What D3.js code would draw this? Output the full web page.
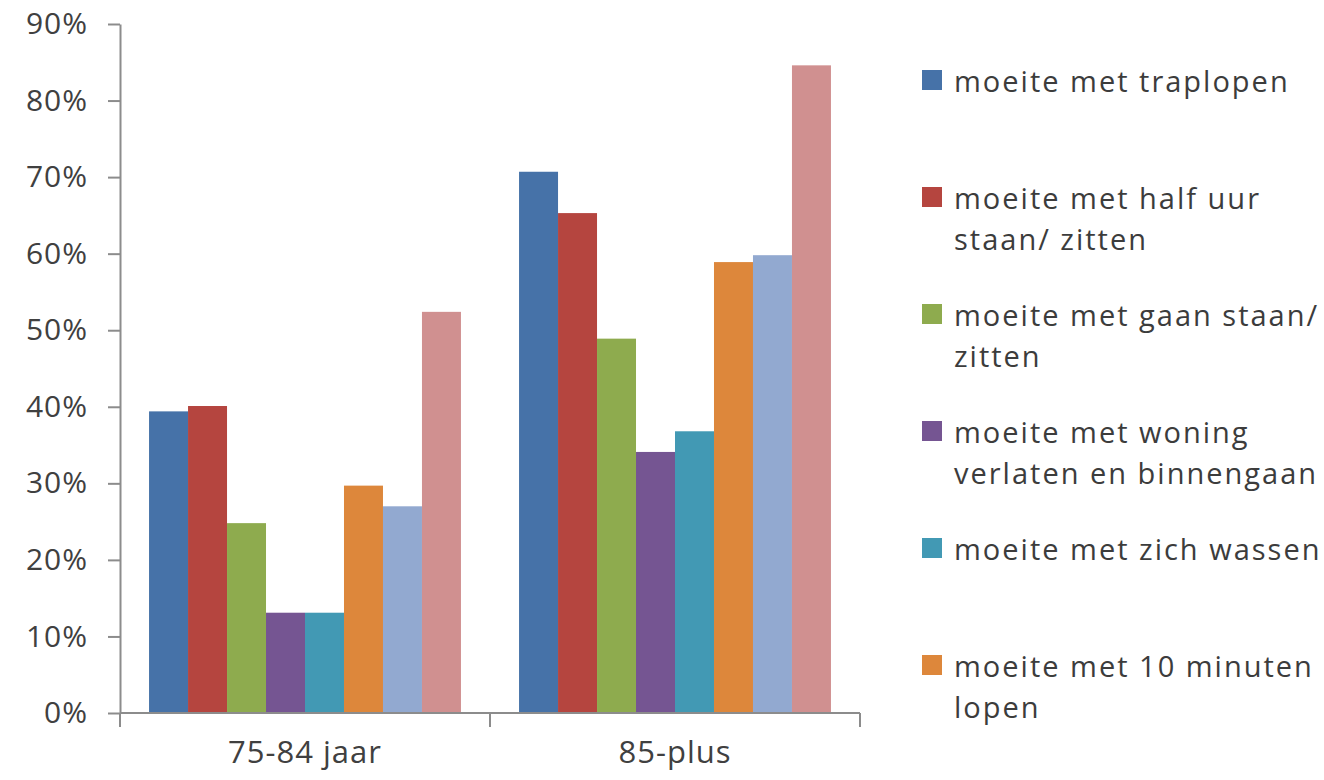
<!DOCTYPE html>
<html>
<head>
<meta charset="utf-8">
<script src="https://cdn.jsdelivr.net/npm/d3@7"></script>
<style>
  html, body { margin: 0; padding: 0; background: #fff; }
  svg { display: block; }
  text { font-family: "Open Sans", "DejaVu Sans", sans-serif; }
</style>
</head>
<body>
<svg id="chart" width="1324" height="780"></svg>
<script>
// ---- data ----
const categories = ["75-84 jaar", "85-plus"];
const seriesNames = [
  "moeite met traplopen",
  "moeite met half uur staan/ zitten",
  "moeite met gaan staan/ zitten",
  "moeite met woning verlaten en binnengaan",
  "moeite met zich wassen",
  "moeite met 10 minuten lopen",
  "serie 7",
  "serie 8"
];
// legend shows only the first six entries (rest is cut off in the original)
const legendLines = [
  ["moeite met traplopen"],
  ["moeite met half uur", "staan/ zitten"],
  ["moeite met gaan staan/", "zitten"],
  ["moeite met woning", "verlaten en binnengaan"],
  ["moeite met zich wassen"],
  ["moeite met 10 minuten", "lopen"]
];
const values7584 = [39.4, 40.1, 24.8, 13.1, 13.1, 29.7, 27.0, 52.4];
const values85plus = [70.7, 65.3, 48.9, 34.1, 36.8, 58.9, 59.8, 84.6];
const yTicks = [0, 10, 20, 30, 40, 50, 60, 70, 80, 90];
const colors = ["#4672a8", "#b5453f", "#8eab4e", "#755592", "#4299b4", "#dd873b", "#92a9d0", "#d09090"];

const valuesByCategory = [values7584, values85plus];

// ---- layout ----
const svg = d3.select("#chart");
const plot = { left: 120, right: 860, top: 24, bottom: 713 };

const x0 = d3.scaleBand().domain(categories).range([plot.left, plot.right])
  .paddingInner(0.157).paddingOuter(0.0785);
const x1 = d3.scaleBand().domain(d3.range(seriesNames.length)).range([0, x0.bandwidth()]);
const y = d3.scaleLinear().domain([0, 90]).range([plot.bottom, plot.top]);
const color = d3.scaleOrdinal().domain(d3.range(seriesNames.length)).range(colors);

// bars
const groups = svg.append("g").selectAll("g").data(categories).join("g")
  .attr("transform", d => `translate(${x0(d)},0)`);
groups.selectAll("rect")
  .data((d, ci) => valuesByCategory[ci].map((v, si) => ({ v, si })))
  .join("rect")
  .attr("x", d => x1(d.si))
  .attr("width", x1.bandwidth())
  .attr("y", d => y(d.v))
  .attr("height", d => y(0) - y(d.v))
  .attr("fill", d => color(d.si));

// y axis
const yAxis = svg.append("g").attr("transform", `translate(${plot.left},0)`)
  .call(d3.axisLeft(y).tickValues(yTicks).tickFormat(d => d + "%").tickSize(12).tickSizeOuter(0).tickPadding(20));
yAxis.select(".domain").attr("stroke", "#8c8c8c").attr("stroke-width", 2);
yAxis.selectAll(".tick line").attr("stroke", "#8c8c8c").attr("stroke-width", 2);
yAxis.selectAll(".tick text").attr("fill", "#404040")
  .style("font-size", "30px").style("letter-spacing", "1px");

// x axis (category separators)
const xEdges = [plot.left, ...categories.slice(1).map(c => x0(c) - x0.step() * x0.paddingInner() / 2), plot.right];
const xAxisG = svg.append("g").attr("transform", `translate(0,${plot.bottom})`);
xAxisG.append("line").attr("x1", plot.left).attr("x2", plot.right).attr("y1", 0).attr("y2", 0)
  .attr("stroke", "#8c8c8c").attr("stroke-width", 2);
xAxisG.selectAll("line.sep").data(xEdges).join("line").attr("class", "sep")
  .attr("x1", d => d).attr("x2", d => d).attr("y1", 0).attr("y2", 14)
  .attr("stroke", "#8c8c8c").attr("stroke-width", 2);
xAxisG.selectAll("text").data(categories).join("text")
  .attr("x", d => x0(d) + x0.bandwidth() / 2)
  .attr("y", 50)
  .attr("text-anchor", "middle")
  .attr("fill", "#404040")
  .style("font-size", "31px").style("letter-spacing", "1px")
  .text(d => d);

// legend
const legend = svg.append("g").attr("transform", "translate(922,0)");
const legendItems = legend.selectAll("g").data(legendLines).join("g")
  .attr("transform", (d, i) => `translate(0,${80 + i * 117})`);
legendItems.append("rect").attr("x", 0).attr("y", -10).attr("width", 20).attr("height", 20)
  .attr("fill", (d, i) => color(i));
legendItems.each(function (lines) {
  const t = d3.select(this).append("text").attr("x", 32).attr("y", 0)
    .attr("fill", "#3c3c3c").style("font-size", "29px").style("letter-spacing", "2px")
    .attr("dominant-baseline", "central");
  lines.forEach((ln, k) => {
    t.append("tspan").attr("x", 32).attr("dy", k === 0 ? 0 : 41).text(ln);
  });
});
</script>
</body>
</html>
